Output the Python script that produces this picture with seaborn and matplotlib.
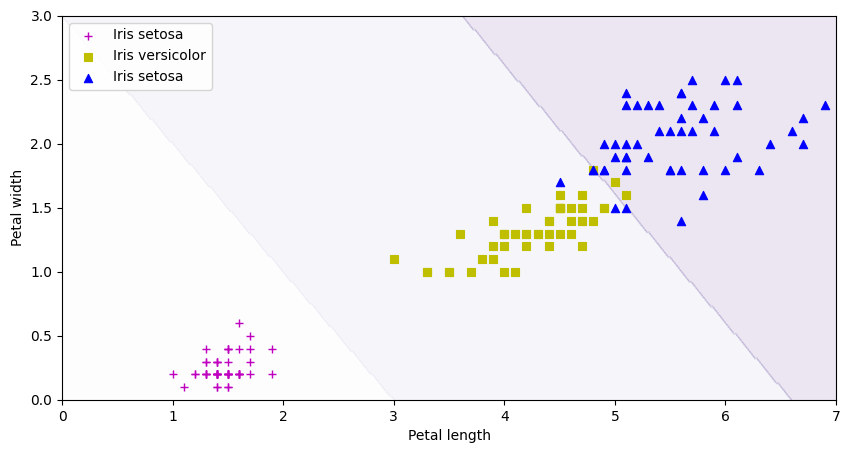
import numpy as np
import seaborn as sns
import matplotlib
matplotlib.use("Agg")
import matplotlib.pyplot as plt

# iris petal measurements
setosa_len = [1.4, 1.4, 1.3, 1.5, 1.4, 1.7, 1.4, 1.5, 1.4, 1.5, 1.5, 1.6, 1.4, 1.1, 1.2, 1.5, 1.3,
              1.4, 1.7, 1.5, 1.7, 1.5, 1.0, 1.7, 1.9, 1.6, 1.6, 1.5, 1.4, 1.6, 1.6, 1.5, 1.5, 1.4,
              1.5, 1.2, 1.3, 1.4, 1.3, 1.5, 1.3, 1.3, 1.3, 1.6, 1.9, 1.4, 1.6, 1.4, 1.5, 1.4]
setosa_wid = [0.2, 0.2, 0.2, 0.2, 0.2, 0.4, 0.3, 0.2, 0.2, 0.1, 0.2, 0.2, 0.1, 0.1, 0.2, 0.4, 0.4,
              0.3, 0.3, 0.3, 0.2, 0.4, 0.2, 0.5, 0.2, 0.2, 0.4, 0.2, 0.2, 0.2, 0.2, 0.4, 0.1, 0.2,
              0.2, 0.2, 0.2, 0.1, 0.2, 0.2, 0.3, 0.3, 0.2, 0.6, 0.4, 0.3, 0.2, 0.2, 0.2, 0.2]
versi_len = [4.7, 4.5, 4.9, 4.0, 4.6, 4.5, 4.7, 3.3, 4.6, 3.9, 3.5, 4.2, 4.0, 4.7, 3.6, 4.4, 4.5,
             4.1, 4.5, 3.9, 4.8, 4.0, 4.9, 4.7, 4.3, 4.4, 4.8, 5.0, 4.5, 3.5, 3.8, 3.7, 3.9, 5.1,
             4.5, 4.5, 4.7, 4.4, 4.1, 4.0, 4.4, 4.6, 4.0, 3.3, 4.2, 4.2, 4.2, 4.3, 3.0, 4.1]
versi_wid = [1.4, 1.5, 1.5, 1.3, 1.5, 1.3, 1.6, 1.0, 1.3, 1.4, 1.0, 1.5, 1.0, 1.4, 1.3, 1.4, 1.5,
             1.0, 1.5, 1.1, 1.8, 1.3, 1.5, 1.2, 1.3, 1.4, 1.4, 1.7, 1.5, 1.0, 1.1, 1.0, 1.2, 1.6,
             1.5, 1.6, 1.5, 1.3, 1.3, 1.3, 1.2, 1.4, 1.2, 1.0, 1.3, 1.2, 1.3, 1.3, 1.1, 1.3]
virg_len = [6.0, 5.1, 5.9, 5.6, 5.8, 6.6, 4.5, 6.3, 5.8, 6.1, 5.1, 5.3, 5.5, 5.0, 5.1, 5.3, 5.5,
            6.7, 6.9, 5.0, 5.7, 4.9, 6.7, 4.9, 5.7, 6.0, 4.8, 4.9, 5.6, 5.8, 6.1, 6.4, 5.6, 5.1,
            5.6, 6.1, 5.6, 5.5, 4.8, 5.4, 5.6, 5.1, 5.1, 5.9, 5.7, 5.2, 5.0, 5.2, 5.4, 5.1]
virg_wid = [2.5, 1.9, 2.1, 1.8, 2.2, 2.1, 1.7, 1.8, 1.8, 2.5, 2.0, 1.9, 2.1, 2.0, 2.4, 2.3, 1.8,
            2.2, 2.3, 1.5, 2.3, 2.0, 2.0, 1.8, 2.1, 1.8, 1.8, 1.8, 2.1, 1.6, 1.9, 2.0, 2.2, 1.5,
            1.4, 2.3, 2.4, 1.8, 1.8, 2.1, 2.4, 2.3, 1.9, 2.3, 2.5, 2.3, 1.9, 2.0, 2.3, 1.8]

labels = ["Iris setosa", "Iris versicolor", "Iris setosa"]

# linear decision boundaries: length + k * width = threshold
width_coef = [1.0, 0.993]
thresholds = [3.0, 6.6]

x0, x1 = np.meshgrid(np.linspace(0, 8, 500), np.linspace(0, 3.5, 200))
zz = ((x0 + width_coef[0] * x1 > thresholds[0]).astype(int)
      + (x0 + width_coef[1] * x1 > thresholds[1]).astype(int))

fig = plt.figure(figsize=(8.5, 4.53), dpi=100)
ax = fig.add_axes([0.073, 0.117, 0.9106, 0.848])

ax.contourf(x0, x1, zz, cmap="Purples", alpha=0.1)

sns.scatterplot(x=setosa_len, y=setosa_wid, marker="+", color="m", s=40,
                linewidth=1, label=labels[0], ax=ax)
sns.scatterplot(x=versi_len, y=versi_wid, marker="s", color="y", edgecolor="y", s=36,
                linewidth=0.8, label=labels[1], ax=ax)
sns.scatterplot(x=virg_len, y=virg_wid, marker="^", color="b", edgecolor="b", s=36,
                linewidth=0.8, label=labels[2], ax=ax)

ax.set_xlim(0, 7)
ax.set_ylim(0, 3)
ax.set_xlabel("Petal length")
ax.set_ylabel("Petal width")
ax.legend(loc="upper left")

fig.savefig("out.png", dpi=100)
